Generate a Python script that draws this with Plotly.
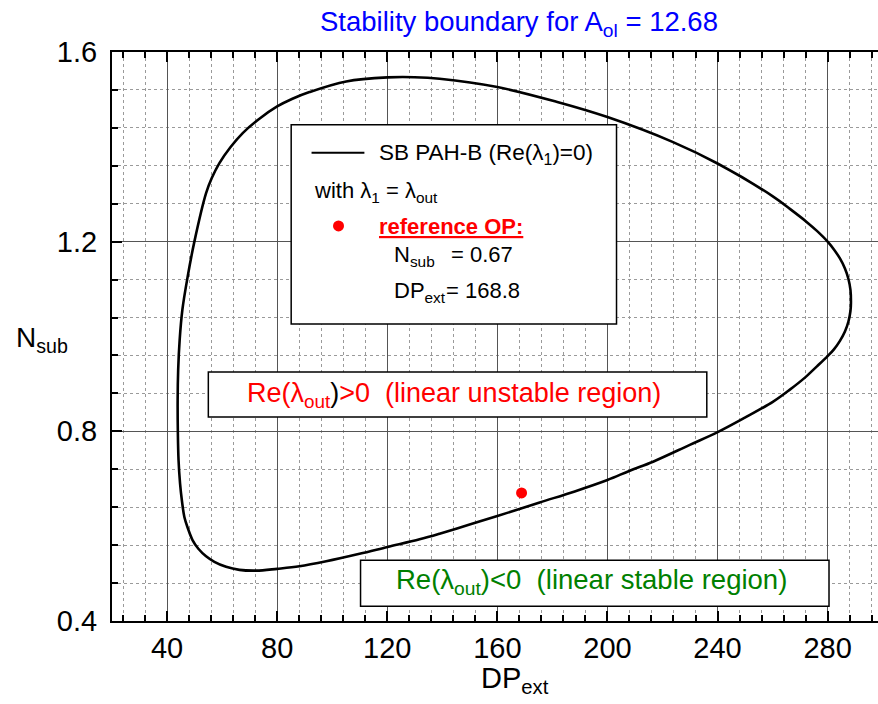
import plotly.graph_objects as go

# Stability boundary (Re(lambda_1) = 0), closed loop in the DP_ext / N_sub plane,
# traced clockwise from the left flank
dp_ext = [43.85, 44.04, 44.58, 45.56, 47.49, 49.93, 54.18, 56.29, 59.02, 63.02,
          67.49, 73.56, 80.00, 85.56, 91.75, 105.09, 120.11, 129.93, 139.02, 160.00,
          181.45, 200.00, 223.85, 240.00, 260.22, 266.29, 272.36, 276.11, 280.00, 282.29,
          284.47, 286.29, 287.56, 288.29, 288.47, 288.29, 287.56, 286.29, 284.47, 282.29,
          280.00, 276.11, 271.75, 266.29, 260.22, 249.93, 240.22, 229.93, 216.58, 208.11,
          200.00, 188.11, 175.38, 160.00, 149.93, 139.02, 131.75, 120.11, 109.93, 97.82,
          88.11, 80.00, 72.36, 66.29, 61.45, 57.20, 54.18, 51.38, 49.31, 47.56,
          46.29, 45.38, 44.73, 44.18, 43.93, 43.85]
n_sub = [0.8658, 0.9292, 0.9925, 1.0559, 1.1262, 1.2001, 1.3023, 1.3346, 1.3656, 1.3990,
         1.4290, 1.4592, 1.4851, 1.5014, 1.5155, 1.5379, 1.5464, 1.5468, 1.5436, 1.5261,
         1.4951, 1.4628, 1.4100, 1.3648, 1.2951, 1.2691, 1.2417, 1.2227, 1.2001, 1.1836,
         1.1646, 1.1435, 1.1213, 1.0981, 1.0707, 1.0538, 1.0316, 1.0105, 0.9908, 0.9729,
         0.9587, 0.9370, 0.9133, 0.8880, 0.8627, 0.8289, 0.7989, 0.7715, 0.7360, 0.7170,
         0.6973, 0.6733, 0.6500, 0.6213, 0.6034, 0.5842, 0.5723, 0.5561, 0.5417, 0.5259,
         0.5153, 0.5100, 0.5062, 0.5079, 0.5143, 0.5248, 0.5364, 0.5523, 0.5702, 0.5956,
         0.6194, 0.6547, 0.6899, 0.7391, 0.7955, 0.8658]

# Reference operating point
op_dp = [168.8]
op_n = [0.67]

x_ticks = [40, 80, 120, 160, 200, 240, 280]
y_ticks = [0.4, 0.8, 1.2, 1.6]

FONT = "Liberation Sans, Arial, sans-serif"

fig = go.Figure()
fig.add_trace(go.Scatter(x=dp_ext, y=n_sub, mode="lines",
                         line=dict(color="black", width=2.6, shape="spline",
                                   smoothing=1.0, simplify=False),
                         hoverinfo="skip", showlegend=False))
fig.add_trace(go.Scatter(x=op_dp, y=op_n, mode="markers",
                         marker=dict(color="#ff0000", size=11),
                         showlegend=False))

# Boxes: legend panel and the two region labels (above the grid, below the data)
box_line = dict(color="black", width=1.5)
fig.add_shape(type="rect", x0=85.1, x1=203.3, y0=1.0263, y1=1.4465,
              line=box_line, fillcolor="white", layer="between")
fig.add_shape(type="rect", x0=55.0, x1=236.1, y0=0.830, y1=0.925,
              line=box_line, fillcolor="white", layer="between")
fig.add_shape(type="rect", x0=110.3, x1=280.5, y0=0.431, y1=0.528,
              line=box_line, fillcolor="white", layer="between")

# Legend line sample
fig.add_shape(type="line", x0=92.5, x1=111.7, y0=1.3874, y1=1.3874,
              line=dict(color="black", width=2), layer="above")
# Legend marker sample
fig.add_trace(go.Scatter(x=[102.3], y=[1.2333], mode="markers",
                         marker=dict(color="#ff0000", size=11),
                         showlegend=False, hoverinfo="skip"))


def note(x, y, text, size=22, color="black", xanchor="left", xref="x", yref="y"):
    fig.add_annotation(x=x, y=y, xref=xref, yref=yref, text=text, showarrow=False,
                       xanchor=xanchor, yanchor="middle",
                       font=dict(family=FONT, size=size, color=color))


note(116.1, 1.384, "SB PAH-B (Re(λ<sub>1</sub>)=0)", size=22.5)
note(92.8, 1.305, "with λ<sub>1</sub> = λ<sub>out</sub>")
note(116.1, 1.232, "<b><u>reference OP:</u></b>", color="#ff0000")
note(121.9, 1.169, "N<sub>sub</sub>")
note(142.5, 1.174, "= 0.67")
note(121.9, 1.093, "DP<sub>ext</sub>")
note(140.8, 1.098, "= 168.8")

note(144.1, 0.876,
     "<span style='color:#ff0000'>Re(λ<sub>out</sub></span>)"
     "<span style='color:#ff0000'>&gt;0  (linear unstable region)</span>",
     size=27, xanchor="center")
note(194.2, 0.483, "Re(λ<sub>out</sub>)&lt;0  (linear stable region)",
     size=27.5, color="#008000", xanchor="center")

# Title and axis titles
note(0.531, 1.050, "Stability boundary for A<sub>ol</sub> = 12.68", size=27.5,
     color="#0000ff", xanchor="center", xref="paper", yref="paper")
note(-0.092, 0.495, "N<sub>sub</sub>", size=28, xanchor="center",
     xref="paper", yref="paper")
note(0.526, -0.103, "DP<sub>ext</sub>", size=29, xanchor="center",
     xref="paper", yref="paper")

axis_common = dict(
    showline=True, linecolor="black", linewidth=2,
    ticks="inside", ticklen=10, tickwidth=2, tickcolor="black",
    showgrid=True, gridcolor="#555555", gridwidth=1,
    zeroline=False,
    tickfont=dict(family=FONT, size=29, color="black"),
)

fig.update_xaxes(range=[20, 298.3], tickvals=x_ticks, mirror="ticks",
                 minor=dict(tick0=0, dtick=8, ticklen=6, tickwidth=1.5, tickcolor="black",
                            showgrid=True, gridcolor="#9a9a9a", griddash="dot", gridwidth=1,
                            ticks="inside"),
                 **axis_common)
fig.update_yaxes(range=[0.4, 1.6], tickvals=y_ticks, tickformat=".1f", mirror=False,
                 ticklabelstandoff=7,
                 minor=dict(tick0=0, dtick=0.08, ticklen=6, tickwidth=1.5, tickcolor="black",
                            showgrid=True, gridcolor="#9a9a9a", griddash="dot", gridwidth=1,
                            ticks="inside"),
                 **axis_common)

fig.update_layout(
    width=878, height=704,
    margin=dict(l=112, r=0, t=52, b=83),
    paper_bgcolor="white", plot_bgcolor="white",
    font=dict(family=FONT),
    showlegend=False,
)

fig.write_html("out.html")
